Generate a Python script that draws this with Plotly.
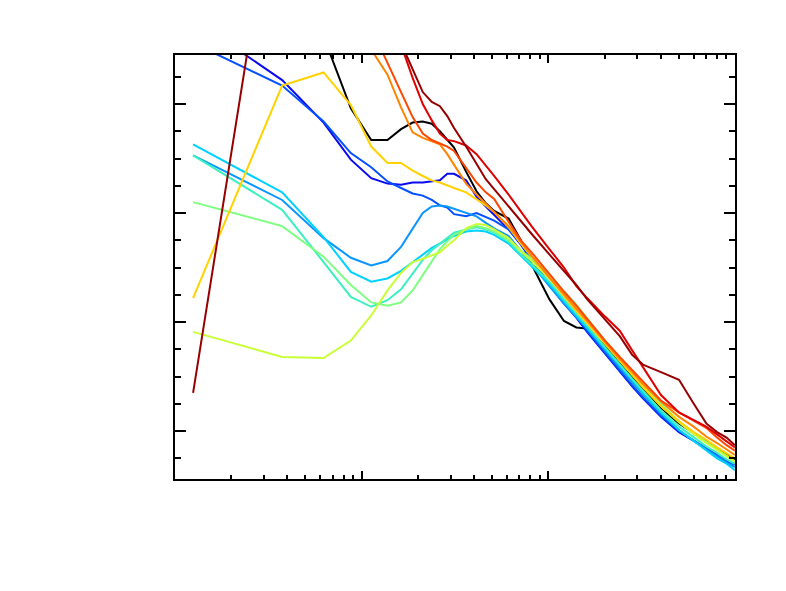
import plotly.graph_objects as go

# Frequency grid (Hz)
freq = [1.25, 3.75, 6.25, 8.75, 11.25, 13.75, 16.25, 18.75, 21.25, 23.75, 26.25, 28.75, 31.25,
        36.25, 41.25, 46.25, 51.25, 61.25, 71.25, 81.25, 101.25, 121.25, 141.25, 161.25,
        201.25, 241.25, 281.25, 321.25, 401.25, 501.25, 601.25, 701.25, 801.25, 901.25, 998.75]

# Spectral levels (dB) for each series
s_black = [46.0, 42.0, 36.2, 29.6, 26.7, 26.7, 27.7, 28.3, 28.4, 28.2, 27.5, 26.7, 26.0, 23.8, 22.0, 20.9, 20.2,
           19.5, 17.5, 15.3, 12.1, 10.1, 9.5, 9.4, 7.8, 6.2, 5.0, 3.9, 2.1, 0.7, -0.2, -0.9, -1.6, -2.1, -2.6]
s_darkblue = [37.8, 32.2, 28.3, 24.9, 23.2, 22.7, 22.6, 22.8, 22.8, 22.9, 23.0, 23.6, 23.6, 23.0, 21.5, 20.6, 19.8,
              18.5, 17.1, 15.7, 13.4, 11.7, 10.4, 9.1, 7.1, 5.4, 4.1, 3.0, 1.3, -0.1, -0.9, -1.6, -2.2, -2.7, -3.0]
s_blue = [35.6, 31.7, 28.4, 25.5, 24.2, 22.9, 22.3, 21.8, 21.6, 21.2, 20.7, 20.5, 19.9, 19.7, 20.0, 19.6, 19.3,
          18.5, 17.2, 15.8, 13.5, 11.8, 10.5, 9.2, 7.2, 5.5, 4.2, 3.1, 1.4, 0.0, -0.9, -1.6, -2.2, -2.8, -3.1]
s_azure = [25.3, 21.2, 17.7, 15.9, 15.2, 15.6, 16.9, 18.5, 20.0, 20.6, 20.7, 20.6, 20.4, 20.0, 19.7, 19.1, 18.6,
           17.9, 16.5, 15.3, 13.3, 11.7, 10.5, 9.4, 7.4, 5.8, 4.5, 3.4, 1.6, 0.1, -0.9, -1.7, -2.3, -2.9, -3.3]
s_cyan = [26.3, 21.9, 17.8, 14.6, 13.7, 14.0, 14.7, 15.5, 16.2, 16.8, 17.2, 17.6, 17.9, 18.3, 18.4, 18.3, 18.0,
          17.2, 16.1, 15.1, 13.5, 11.9, 10.6, 9.4, 7.5, 6.0, 4.7, 3.5, 1.7, 0.1, -0.9, -1.7, -2.5, -3.0, -3.6]
s_teal = [25.3, 20.3, 15.5, 12.3, 11.4, 12.0, 13.0, 14.5, 15.7, 16.6, 17.2, 17.7, 18.2, 18.5, 18.7, 18.5, 18.2,
          17.4, 16.2, 15.3, 13.7, 12.1, 10.8, 9.7, 7.7, 6.1, 4.8, 3.7, 1.9, 0.4, -0.6, -1.4, -2.0, -2.6, -3.0]
s_lightgreen = [21.0, 18.8, 16.0, 13.4, 11.8, 11.5, 11.8, 12.9, 14.3, 15.6, 16.7, 17.4, 18.0, 18.5, 18.8, 18.6, 18.3,
                17.5, 16.6, 15.8, 14.4, 12.8, 11.6, 10.4, 8.3, 6.8, 5.5, 4.4, 2.5, 0.9, -0.2, -1.0, -1.7, -2.3, -2.8]
s_yellowgreen = [9.1, 6.8, 6.7, 8.3, 10.6, 12.9, 14.5, 15.5, 15.8, 16.1, 16.4, 17.0, 17.5, 18.6, 19.0, 18.9, 18.5,
                 17.7, 16.5, 15.6, 14.0, 12.5, 11.2, 10.1, 8.1, 6.5, 5.2, 4.1, 2.3, 0.8, -0.3, -1.1, -1.7, -2.3, -2.8]
s_yellow = [12.2, 31.7, 32.9, 29.9, 26.1, 24.6, 24.6, 23.9, 23.4, 23.0, 22.8, 22.5, 22.3, 21.9, 21.3, 20.7, 20.1,
            18.7, 17.2, 16.0, 14.0, 12.4, 11.0, 9.9, 8.0, 6.4, 5.1, 4.0, 2.3, 0.9, -0.1, -0.8, -1.5, -2.0, -2.5]
s_orange = [45.0, 42.0, 39.5, 37.5, 35.0, 32.7, 29.7, 27.4, 26.9, 26.6, 26.3, 25.4, 24.4, 22.7, 21.7, 20.9, 20.1,
            18.8, 17.3, 16.1, 14.1, 12.5, 11.2, 10.1, 8.2, 6.6, 5.4, 4.3, 2.7, 1.3, 0.4, -0.5, -1.1, -1.7, -2.2]
s_redorange = [47.0, 44.0, 41.5, 39.5, 37.0, 33.7, 31.1, 28.8, 27.3, 26.7, 26.4, 26.1, 25.7, 24.2, 22.8, 21.9, 21.3,
               19.2, 17.5, 16.4, 14.4, 12.8, 11.5, 10.3, 8.3, 6.8, 5.6, 4.5, 2.8, 1.7, 0.9, 0.3, -0.6, -1.3, -1.8]
s_red = [50.0, 47.0, 44.5, 42.5, 41.0, 39.0, 35.4, 32.4, 30.0, 28.5, 27.3, 26.7, 26.6, 26.2, 25.4, 24.4, 23.4,
         21.7, 20.1, 18.8, 16.7, 15.0, 13.3, 12.2, 10.5, 9.2, 7.4, 5.9, 3.3, 1.7, 1.0, 0.4, -0.3, -0.9, -1.5]
s_darkred = [3.5, 54.8, 51.0, 48.0, 45.0, 41.0, 35.6, 33.2, 31.1, 30.2, 29.8, 28.9, 27.8, 26.1, 24.5, 23.1, 22.2,
             20.6, 19.2, 18.1, 16.2, 14.7, 13.4, 12.1, 10.2, 8.7, 7.0, 6.1, 5.4, 4.7, 2.5, 0.7, -0.1, -0.6, -1.3]

series = [
    (s_black, "#000000"),
    (s_darkblue, "#0a0af0"),
    (s_blue, "#0550ff"),
    (s_azure, "#0a96ff"),
    (s_cyan, "#00d2ff"),
    (s_teal, "#3cf0c0"),
    (s_lightgreen, "#7dff80"),
    (s_yellowgreen, "#c8ff35"),
    (s_yellow, "#ffd200"),
    (s_orange, "#ff8200"),
    (s_redorange, "#ff4600"),
    (s_red, "#e00000"),
    (s_darkred, "#960000"),
]

fig = go.Figure()
for ys, col in series:
    fig.add_trace(go.Scatter(x=freq, y=ys, mode="lines",
                             line=dict(color=col, width=2), showlegend=False))

minor_x = [m * 10 ** e for e in range(0, 3) for m in range(2, 10)]

fig.update_xaxes(type="log", range=[0, 3], showgrid=False, zeroline=False,
                 showline=True, linecolor="black", linewidth=2, mirror="allticks",
                 ticks="inside", ticklen=8, tickwidth=2, tickcolor="black",
                 tickvals=[10, 100], showticklabels=False,
                 minor=dict(tickvals=minor_x, ticks="inside", ticklen=4, tickwidth=2,
                            tickcolor="black", showgrid=False))
fig.update_yaxes(range=[-4.4, 34.5], showgrid=False, zeroline=False,
                 showline=True, linecolor="black", linewidth=2, mirror="allticks",
                 ticks="inside", ticklen=11, tickwidth=2, tickcolor="black",
                 tick0=0, dtick=10, showticklabels=False,
                 minor=dict(dtick=2.5, ticks="inside", ticklen=6, tickwidth=2,
                            tickcolor="black", showgrid=False))

fig.update_layout(width=778, height=583, paper_bgcolor="white", plot_bgcolor="white",
                  margin=dict(l=167, r=51, t=47, b=112))

fig.write_html("out.html")
